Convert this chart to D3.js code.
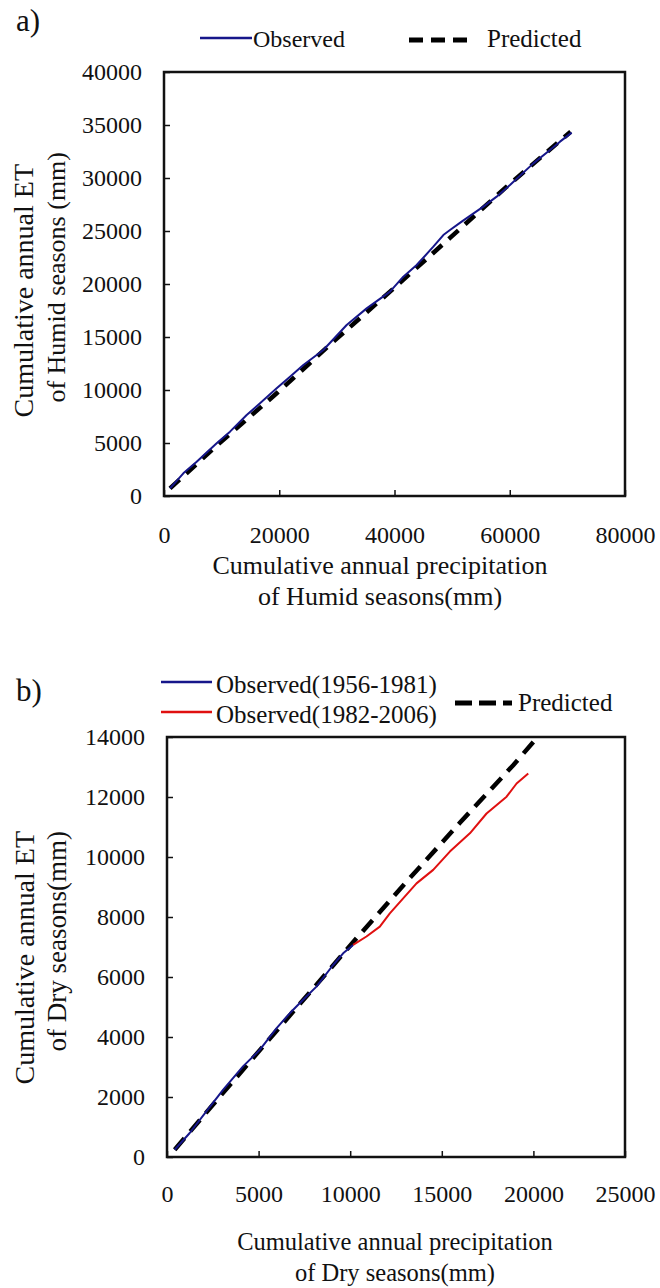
<!DOCTYPE html>
<html>
<head>
<meta charset="utf-8">
<script src="https://cdn.jsdelivr.net/npm/d3@7"></script>
<style>
  body { margin: 0; background: #fff; }
  text { font-family: "Liberation Serif", "Times New Roman", serif; fill: #111; }
</style>
</head>
<body>
<svg id="chart" width="660" height="1288"></svg>
<script>

// ---- panel a: humid seasons ----
const humidPrecipObs = [1040, 3355, 5670, 9140, 11454, 14346, 16660, 19552, 21866, 24179, 27650, 31699,
    35170, 39219, 41533, 43847, 46739, 48474, 49631, 51655, 55415, 57729, 60043, 64092, 66984, 68720, 70744];
const humidEtObs = [720, 2140, 3240, 4970, 6070, 7640, 8740, 10160, 11260, 12360, 13770, 16130,
    17700, 19280, 20690, 21790, 23520, 24620, 25090, 25880, 27300, 28240, 29340, 31380, 32640, 33430, 34280];
const humidPrecipPred = [1040, 9140, 19552, 29386, 39219, 49631, 59464, 70571];
const humidEtPred = [720, 4750, 9690, 14560, 19280, 24350, 29180, 34370];
const humidXTicks = [0, 20000, 40000, 60000, 80000];
const humidYTicks = [0, 5000, 10000, 15000, 20000, 25000, 30000, 35000, 40000];

// ---- panel b: dry seasons ----
const dryPrecipObs1 = [420, 1240, 2148, 3059, 4151, 5062, 5972, 6701, 7429, 8157, 9068, 9614, 10160];
const dryEtObs1 = [243, 800, 1520, 2240, 3020, 3570, 4290, 4790, 5240, 5680, 6400, 6790, 7070];
const dryPrecipObs2 = [10160, 10888, 11617, 12163, 13620, 14530, 15440, 16533, 17443, 18536, 19082, 19719];
const dryEtObs2 = [7070, 7350, 7680, 8120, 9120, 9570, 10180, 10790, 11450, 12010, 12450, 12780];
const dryPrecipPred = [420, 2696, 5517, 8521, 10343, 13256, 15986, 18898, 20083];
const dryEtPred = [243, 1880, 3880, 6000, 7290, 9300, 11140, 13060, 13892];
const dryXTicks = [0, 5000, 10000, 15000, 20000, 25000];
const dryYTicks = [0, 2000, 4000, 6000, 8000, 10000, 12000, 14000];

const obsBlue = "#16168a";
const obsRed = "#e01010";

const svg = d3.select("#chart");

function zipPts(xs, ys) { return xs.map((v, i) => [v, ys[i]]); }

function panel(opt) {
    let x = d3.scaleLinear().domain(opt.xDomain).range(opt.xRange);
    let y = d3.scaleLinear().domain(opt.yDomain).range(opt.yRange);

    // y axis, ticks point inward
    let gy = svg.append("g")
        .attr("transform", "translate(" + opt.xRange[0] + ",0)")
        .call(d3.axisLeft(y).tickValues(opt.yTicks).tickSize(-6).tickPadding(opt.yPad).tickFormat(d3.format("d")));
    gy.select(".domain").remove();
    gy.selectAll("line").attr("stroke", "#111").attr("stroke-width", 1.5);
    gy.selectAll("text").style("font-size", opt.tickFont + "px")
        .style("font-family", '"Liberation Serif", serif').attr("fill", "#111");

    let gx = svg.append("g")
        .attr("transform", "translate(0," + opt.yRange[0] + ")")
        .call(d3.axisBottom(x).tickValues(opt.xTicks).tickSize(-6).tickPadding(opt.xPad).tickFormat(d3.format("d")));
    gx.select(".domain").remove();
    gx.selectAll("line").attr("stroke", "#111").attr("stroke-width", 1.5);
    gx.selectAll("text").style("font-size", opt.tickFont + "px")
        .style("font-family", '"Liberation Serif", serif').attr("fill", "#111");

    let line = d3.line().x(d => x(d[0])).y(d => y(d[1]));

    opt.series.forEach(s => {
        svg.append("path")
            .datum(s.pts)
            .attr("d", line)
            .attr("fill", "none")
            .attr("stroke", s.color)
            .attr("stroke-width", s.width)
            .attr("stroke-dasharray", s.dash || null)
            .attr("stroke-linejoin", "round");
    });

    // frame
    svg.append("rect")
        .attr("x", opt.xRange[0]).attr("y", opt.yRange[1])
        .attr("width", opt.xRange[1] - opt.xRange[0])
        .attr("height", opt.yRange[0] - opt.yRange[1])
        .attr("fill", "none").attr("stroke", "#111").attr("stroke-width", 2.5);

    // x title
    opt.xTitle.forEach((t, i) => {
        svg.append("text")
            .attr("x", opt.xTitleX).attr("y", opt.xTitleY + i * opt.xTitleGap)
            .attr("text-anchor", "middle")
            .style("font-size", opt.xTitleFont + "px")
            .text(t);
    });

    // y title (two rotated lines, aligned at their ends)
    opt.yTitle.forEach((t, i) => {
        svg.append("text")
            .attr("transform", "translate(" + (opt.yTitleX + i * 32) + "," + opt.yTitleEnd[i] + ")rotate(-90)")
            .attr("text-anchor", "end")
            .style("font-size", opt.yTitleFont[i] + "px")
            .text(t);
    });

    // panel letter
    svg.append("text")
        .attr("x", 16).attr("y", opt.letterY)
        .style("font-size", "31px")
        .text(opt.letter);
}

function legendLine(x1, x2, y, color, width, dash) {
    svg.append("line")
        .attr("x1", x1).attr("x2", x2).attr("y1", y).attr("y2", y)
        .attr("stroke", color).attr("stroke-width", width)
        .attr("stroke-dasharray", dash || null);
}
function legendText(x, y, size, t) {
    svg.append("text").attr("x", x).attr("y", y).style("font-size", size + "px").text(t);
}

panel({
    xDomain: [0, 80000], xRange: [164, 625],
    yDomain: [0, 40000], yRange: [496, 72],
    xTicks: humidXTicks, yTicks: humidYTicks,
    tickFont: 24, yPad: 22, xPad: 30,
    series: [
        { pts: zipPts(humidPrecipPred, humidEtPred), color: "#000", width: 4.5, dash: "13,9" },
        { pts: zipPts(humidPrecipObs, humidEtObs), color: obsBlue, width: 2 }
    ],
    xTitle: ["Cumulative annual precipitation", "of Humid seasons(mm)"],
    xTitleX: 380, xTitleY: 574, xTitleGap: 31, xTitleFont: 26,
    yTitle: ["Cumulative annual ET", "of Humid seasons (mm)"],
    yTitleX: 33, yTitleEnd: [164, 152], yTitleFont: [28, 26],
    letter: "a)", letterY: 31
});

legendLine(200, 252, 38, obsBlue, 2.5);
legendText(253, 47, 24, "Observed");
legendLine(409, 472, 40, "#000", 5, "14,8");
legendText(487, 47, 25, "Predicted");

panel({
    xDomain: [0, 25000], xRange: [167, 625],
    yDomain: [0, 14000], yRange: [1157, 737],
    xTicks: dryXTicks, yTicks: dryYTicks,
    tickFont: 24, yPad: 22, xPad: 28,
    series: [
        { pts: zipPts(dryPrecipPred, dryEtPred), color: "#000", width: 4.5, dash: "15,9" },
        { pts: zipPts(dryPrecipObs1, dryEtObs1), color: obsBlue, width: 2 },
        { pts: zipPts(dryPrecipObs2, dryEtObs2), color: obsRed, width: 2 }
    ],
    xTitle: ["Cumulative annual precipitation", "of Dry seasons(mm)"],
    xTitleX: 395, xTitleY: 1250, xTitleGap: 31, xTitleFont: 24.5,
    yTitle: ["Cumulative annual ET", "of Dry seasons(mm)"],
    yTitleX: 34, yTitleEnd: [831, 831], yTitleFont: [28, 27],
    letter: "b)", letterY: 701
});

legendLine(161, 212, 682, obsBlue, 2.5);
legendText(216, 693, 25, "Observed(1956-1981)");
legendLine(161, 212, 712, obsRed, 2.5);
legendText(216, 723, 25, "Observed(1982-2006)");
legendLine(455, 512, 703, "#000", 5, "17,7");
legendText(518, 711, 25, "Predicted");

</script>
</body>
</html>
